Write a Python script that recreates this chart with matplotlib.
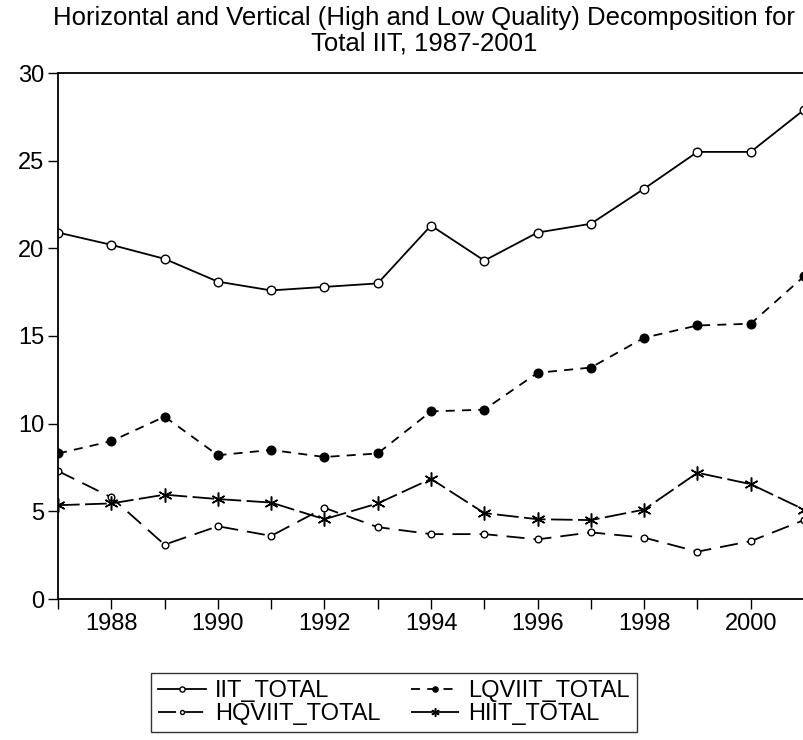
import numpy as np
import matplotlib
matplotlib.use("Agg")
import matplotlib.pyplot as plt

# ==========================================
# DATA
# ==========================================

years = list(range(1987, 2002))

iit_total = [20.9, 20.2, 19.4, 18.1, 17.6, 17.8, 18.0, 21.3,
             19.3, 20.9, 21.4, 23.4, 25.5, 25.5, 27.9]

lqviit_total = [8.3, 9.0, 10.4, 8.2, 8.5, 8.1, 8.3, 10.7,
                10.8, 12.9, 13.2, 14.9, 15.6, 15.7, 18.4]

hqviit_total = [7.3, 5.8, 3.1, 4.15, 3.6, 5.2, 4.1, 3.7,
                3.7, 3.4, 3.8, 3.5, 2.7, 3.3, 4.5]

hiit_total = [5.35, 5.45, 5.95, 5.7, 5.5, 4.55, 5.45, 6.85,
              4.9, 4.55, 4.5, 5.1, 7.2, 6.55, 5.1]

x_labels = [str(y) if y % 2 == 0 else "" for y in years]

TITLE_LINES = ["Horizontal and Vertical (High and Low Quality) Decomposition for",
               "Total IIT, 1987-2001"]

# ==========================================
# FIGURE
# ==========================================

plt.rcParams["font.family"] = ["Liberation Sans", "DejaVu Sans"]

fig = plt.figure(figsize=(8.04, 7.40), dpi=100)

W, H = 804, 740
ax = fig.add_axes([58 / W, 1 - 599 / H, (804 - 58) / W, (599 - 73) / H])

l_iit, = ax.plot(years, iit_total, color="black", lw=1.3, ls="-",
                 marker="o", ms=6.2, mfc="white", mec="black", mew=1.0,
                 label="IIT_TOTAL")

l_lq, = ax.plot(years, lqviit_total, color="black", lw=1.3, ls=(0, (5, 4)),
                marker="o", ms=6.2, mfc="black", mec="black",
                label="LQVIIT_TOTAL")

l_hq, = ax.plot(years, hqviit_total, color="black", lw=1.3, ls=(0, (10, 5)),
                marker="o", ms=4.8, mfc="white", mec="black", mew=1.0,
                label="HQVIIT_TOTAL")

l_hi, = ax.plot(years, hiit_total, color="black", lw=1.3, ls=(0, (12, 3)),
                marker=(6, 2, 0), ms=10, mec="black", mew=1.1,
                label="HIIT_TOTAL")

ax.set_xlim(1987, 2001)
ax.set_ylim(0, 30)

ax.set_xticks(years)
ax.set_xticklabels(x_labels)
ax.set_yticks(range(0, 31, 5))

ax.tick_params(axis="both", direction="out", length=7, width=1,
               labelsize=17, colors="black")
ax.tick_params(axis="x", pad=3)
ax.tick_params(axis="y", pad=3)

ax.spines["right"].set_visible(False)
for s in ["left", "bottom", "top"]:
    ax.spines[s].set_linewidth(1.3)

# two title lines, placed separately
fig.text(424 / W, 1 - 18 / H, TITLE_LINES[0], ha="center", va="center",
         fontsize=18.5)
fig.text(424 / W, 1 - 43 / H, TITLE_LINES[1], ha="center", va="center",
         fontsize=18.5)

# legend order: row 1 IIT / LQVIIT, row 2 HQVIIT / HIIT
leg = fig.legend([l_iit, l_hq, l_lq, l_hi],
                 ["IIT_TOTAL", "HQVIIT_TOTAL", "LQVIIT_TOTAL", "HIIT_TOTAL"],
                 loc="upper center", bbox_to_anchor=(394 / W, 1 - 673 / H),
                 ncol=2, frameon=True, fancybox=False, edgecolor="black",
                 fontsize=17, handlelength=2.0, handletextpad=0.4,
                 columnspacing=1.3, borderpad=0.3, labelspacing=0.05,
                 borderaxespad=0, markerscale=0.6)
leg.get_frame().set_linewidth(1.0)

fig.savefig("out.png", dpi=100)
